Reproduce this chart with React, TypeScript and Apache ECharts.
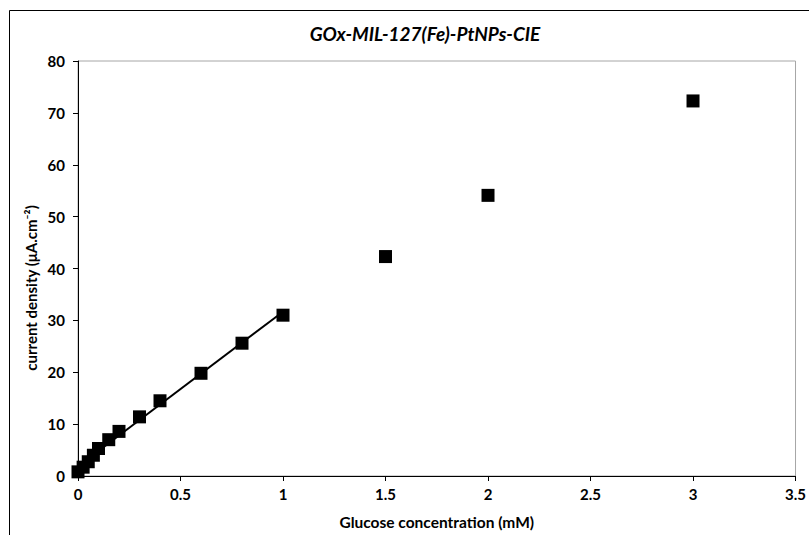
import React, { useEffect, useRef } from "react";
import * as echarts from "echarts";

const glucose = [0, 0.025, 0.05, 0.075, 0.1, 0.15, 0.2, 0.3, 0.4, 0.6, 0.8, 1.0, 1.5, 2.0, 3.0];
const currentDensity = [0.8, 1.7, 2.75, 4.0, 5.3, 7.0, 8.6, 11.4, 14.5, 19.8, 25.6, 31.0, 42.3, 54.1, 72.3];
const fitMaxX = 1.0;
const xTicks = [0, 0.5, 1, 1.5, 2, 2.5, 3, 3.5];
const yTicks = [0, 10, 20, 30, 40, 50, 60, 70, 80];

const titleText = "GOx-MIL-127(Fe)-PtNPs-CIE";
const xName = "Glucose concentration (mM)";
const yName = "current density (μA.cm⁻²)";

function linearFit(xs: number[], ys: number[]) {
  const n = xs.length;
  const mx = xs.reduce((a, b) => a + b, 0) / n;
  const my = ys.reduce((a, b) => a + b, 0) / n;
  let sxy = 0, sxx = 0;
  for (let i = 0; i < n; i++) {
    sxy += (xs[i] - mx) * (ys[i] - my);
    sxx += (xs[i] - mx) * (xs[i] - mx);
  }
  const slope = sxy / sxx;
  return { slope, intercept: my - slope * mx };
}

export default function App() {
  const ref = useRef<HTMLDivElement>(null);
  useEffect(() => {
    if (!ref.current) return;
    const chart = echarts.init(ref.current, null, { renderer: "svg" });
    const fx: number[] = [];
    const fy: number[] = [];
    glucose.forEach((x, i) => {
      if (x <= fitMaxX) {
        fx.push(x);
        fy.push(currentDensity[i]);
      }
    });
    const { slope, intercept } = linearFit(fx, fy);
    const fitLine = [
      [0, intercept],
      [fitMaxX, intercept + slope * fitMaxX],
    ];
    const font = "Lato, 'Open Sans', sans-serif";
    chart.setOption({
      animation: false,
      backgroundColor: "#fff",
      textStyle: { fontFamily: font },
      title: {
        text: titleText,
        left: 420,
        top: 19,
        textAlign: "center",
        textStyle: { fontFamily: font, fontSize: 19, fontWeight: "bold", fontStyle: "italic", color: "#000" },
      },
      graphic: [
        {
          type: "rect",
          shape: { x: 9.5, y: 10.5, width: 900, height: 600 },
          style: { fill: "none", stroke: "#000", lineWidth: 1 },
          silent: true,
        },
        {
          type: "text",
          x: 31,
          y: 288,
          rotation: Math.PI / 2,
          style: {
            text: yName,
            fontFamily: font,
            fontSize: 15,
            fontWeight: "bold",
            fill: "#000",
            align: "center",
            verticalAlign: "middle",
          },
        },
      ],
      grid: {
        left: 78,
        right: 13,
        top: 61,
        bottom: 59,
        show: true,
        borderColor: "#a6a6a6",
        borderWidth: 1,
        backgroundColor: "transparent",
      },
      xAxis: {
        type: "value",
        min: xTicks[0],
        max: xTicks[xTicks.length - 1],
        interval: 0.5,
        name: xName,
        nameLocation: "middle",
        nameGap: 38,
        nameTextStyle: { fontFamily: font, fontSize: 15.5, fontWeight: "bold", color: "#000" },
        axisLine: { show: true, onZero: false, lineStyle: { color: "#000", width: 1 } },
        axisTick: { show: true, length: 5, lineStyle: { color: "#000" } },
        axisLabel: { fontFamily: font, fontSize: 15, fontWeight: "bold", color: "#000", margin: 10 },
        splitLine: { show: false },
      },
      yAxis: {
        type: "value",
        min: yTicks[0],
        max: yTicks[yTicks.length - 1],
        interval: 10,
        axisLine: { show: true, onZero: false, lineStyle: { color: "#000", width: 1 } },
        axisTick: { show: true, length: 5, lineStyle: { color: "#000" } },
        axisLabel: { fontFamily: font, fontSize: 15, fontWeight: "bold", color: "#000", margin: 13 },
        splitLine: { show: false },
      },
      series: [
        {
          type: "line",
          data: fitLine,
          showSymbol: false,
          symbol: "none",
          lineStyle: { color: "#000", width: 2 },
          z: 2,
        },
        {
          type: "scatter",
          data: glucose.map((x, i) => [x, currentDensity[i]]),
          symbol: "rect",
          symbolSize: 13,
          itemStyle: { color: "#000", opacity: 1 },
          clip: false,
          z: 3,
        },
      ],
    });
    return () => chart.dispose();
  }, []);
  return (
    <div
      ref={ref}
      style={{ position: "fixed", left: 0, top: 0, width: 809, height: 535 }}
    />
  );
}
